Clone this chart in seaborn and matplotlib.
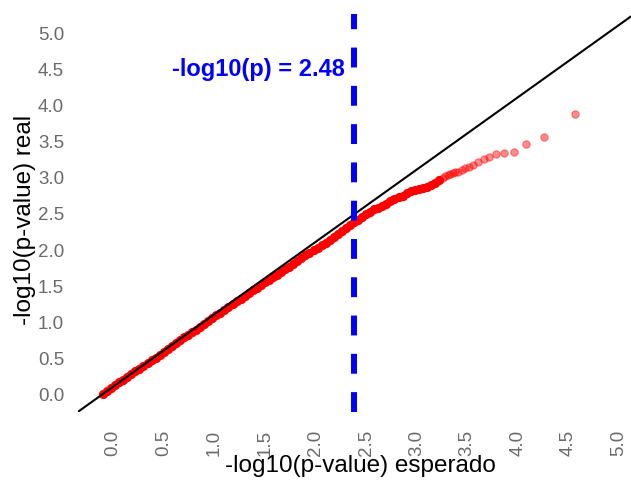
import matplotlib
matplotlib.use("Agg")
import matplotlib.pyplot as plt
import matplotlib.transforms as mtransforms
import seaborn as sns

# ---- data ----
dense_expected = [0.00, 0.04, 0.08, 0.12, 0.16, 0.20, 0.24, 0.28, 0.32, 0.36,
                  0.40, 0.44, 0.48, 0.52, 0.56, 0.60, 0.64, 0.68, 0.72, 0.76,
                  0.80, 0.84, 0.88, 0.92, 0.96, 1.00, 1.04, 1.08, 1.12, 1.16,
                  1.20, 1.24, 1.28, 1.32, 1.36, 1.40, 1.44, 1.48, 1.52, 1.56,
                  1.60, 1.64, 1.68, 1.72, 1.76, 1.80, 1.84, 1.88, 1.92, 1.96,
                  2.00, 2.04, 2.08, 2.12, 2.16, 2.20, 2.24, 2.28, 2.32, 2.36,
                  2.40, 2.44, 2.48, 2.52, 2.56, 2.60, 2.64, 2.68, 2.72, 2.76,
                  2.80, 2.84, 2.88, 2.92, 2.96, 3.00, 3.04, 3.08, 3.12, 3.16,
                  3.20, 3.24, 3.28, 3.32]
dense_observed = [0.00, 0.04, 0.08, 0.12, 0.16, 0.19, 0.23, 0.27, 0.31, 0.35,
                  0.39, 0.43, 0.47, 0.50, 0.54, 0.58, 0.62, 0.66, 0.70, 0.74,
                  0.78, 0.82, 0.86, 0.89, 0.93, 0.97, 1.01, 1.05, 1.09, 1.12,
                  1.16, 1.20, 1.24, 1.28, 1.31, 1.35, 1.39, 1.43, 1.46, 1.50,
                  1.54, 1.58, 1.61, 1.65, 1.69, 1.73, 1.76, 1.80, 1.84, 1.88,
                  1.92, 1.95, 1.99, 2.02, 2.06, 2.09, 2.13, 2.17, 2.21, 2.25,
                  2.29, 2.33, 2.37, 2.41, 2.45, 2.49, 2.52, 2.55, 2.57, 2.60,
                  2.63, 2.66, 2.69, 2.72, 2.74, 2.77, 2.80, 2.82, 2.83, 2.84,
                  2.86, 2.89, 2.92, 2.95]
tail_expected = [3.36, 3.38, 3.41, 3.43, 3.46, 3.48, 3.51, 3.55, 3.58, 3.62,
                 3.66, 3.71, 3.76, 3.81, 3.88, 3.96, 4.06, 4.18, 4.36, 4.66]
tail_observed = [2.98, 3.01, 3.03, 3.04, 3.05, 3.06, 3.07, 3.10, 3.12, 3.13,
                 3.16, 3.20, 3.25, 3.28, 3.31, 3.33, 3.34, 3.45, 3.55, 3.87]
threshold = 2.48
threshold_label = "-log10(p) = 2.48"
tick_values = [0.0, 0.5, 1.0, 1.5, 2.0, 2.5, 3.0, 3.5, 4.0, 4.5, 5.0]
tick_labels = ["0.0", "0.5", "1.0", "1.5", "2.0", "2.5", "3.0", "3.5", "4.0", "4.5", "5.0"]
x_title = "-log10(p-value) esperado"
y_title = "-log10(p-value) real"

# ---- style ----
sns.set_style("white")
plt.rcParams["font.family"] = ["Liberation Sans", "DejaVu Sans"]

W, H = 631, 481
fig = plt.figure(figsize=(W / 100, H / 100), dpi=100)
ax = fig.add_axes([78 / W, 68 / H, 553 / W, 398 / H])

sns.scatterplot(x=dense_expected, y=dense_observed, ax=ax, color="#ff0000",
                s=44, linewidth=0, alpha=1, zorder=1)
sns.scatterplot(x=tail_expected, y=tail_observed, ax=ax, color="#ff0000",
                s=28, edgecolor="#ff0000", linewidth=0.8, alpha=0.45, zorder=1)

ax.axline((0, 0), slope=1, color="black", lw=1.5, zorder=2)
ax.axvline(threshold, color="#0000ff", lw=4.3, ls=(0, (3.33, 3.08)), zorder=3)
ax.text(threshold - 0.09, 4.5, threshold_label, color="#0000ff",
        fontsize=17, fontweight="bold", ha="right", va="center", zorder=4)

ax.set_xlim(-0.247, 5.217)
ax.set_ylim(-0.25, 5.25)
ax.set_xticks(tick_values)
ax.set_xticklabels(tick_labels, rotation=90, fontsize=13.5, color="#6a6a6a")
ax.set_yticks(tick_values)
ax.set_yticklabels(tick_labels, fontsize=13.5, color="#6a6a6a")
ax.tick_params(axis="both", length=0)
ax.tick_params(axis="y", pad=10)
ax.tick_params(axis="x", pad=12)
offset = mtransforms.ScaledTranslation(10 / 100, 0, fig.dpi_scale_trans)
for lab in ax.get_xticklabels():
    lab.set_transform(lab.get_transform() + offset)
for s in ax.spines.values():
    s.set_visible(False)
ax.grid(False)
ax.set_xlabel("")
ax.set_ylabel("")

fig.text(360 / W, 1 - 466 / H, x_title, fontsize=17.5, ha="center", va="center", color="black")
fig.text(25 / W, 1 - 220 / H, y_title, fontsize=17.5, ha="center", va="center",
         rotation=90, color="black")

fig.savefig("out.png", dpi=100)
